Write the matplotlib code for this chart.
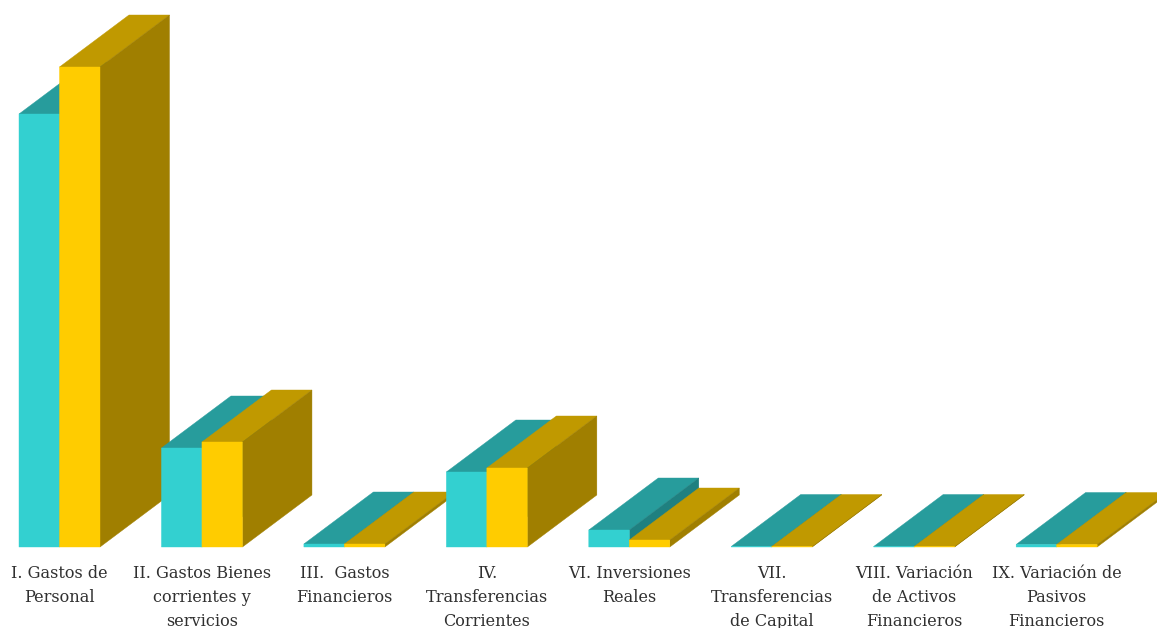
import numpy as np
import matplotlib
matplotlib.use("Agg")
import matplotlib.pyplot as plt
from matplotlib.patches import Polygon

# chart values
categorias = ["I. Gastos de\nPersonal",
              "II. Gastos Bienes\ncorrientes y\nservicios",
              "III.  Gastos\nFinancieros",
              "IV.\nTransferencias\nCorrientes",
              "VI. Inversiones\nReales",
              "VII.\nTransferencias\nde Capital",
              "VIII. Variación\nde Activos\nFinancieros",
              "IX. Variación de\nPasivos\nFinancieros"]
serie_a = [433, 99, 3, 75, 17, 0.5, 0.5, 2.5]
serie_b = [480, 105, 3, 79, 7, 0.5, 0.5, 2.5]

colores_a = ("#33D0D0", "#279C9C", "#1F8080")  # front, top, side
colores_b = ("#FFCC00", "#C09900", "#A07F00")

paso = 142.45
ancho = 40.5 / paso
prof_x = 69.5 / paso
prof_y = 52


def barra(ax, x, h, colores, z):
    # fake 3d bar: top and side first, then the front
    top = [(x, h), (x + ancho, h), (x + ancho + prof_x, h + prof_y), (x + prof_x, h + prof_y)]
    side = [(x + ancho, 0), (x + ancho + prof_x, prof_y), (x + ancho + prof_x, h + prof_y), (x + ancho, h)]
    front = [(x, 0), (x + ancho, 0), (x + ancho, h), (x, h)]
    for caras, color in ((top, colores[1]), (side, colores[2]), (front, colores[0])):
        ax.add_patch(Polygon(caras, closed=True, fc=color, ec=color, lw=0.3, zorder=z, snap=False))


fig = plt.figure(figsize=(11.57, 6.28), dpi=100)
ax = fig.add_axes([0, 0, 1, 1])
ax.set_xlim(-59.5 / paso, (1157 - 59.5) / paso)
ax.set_ylim(-81, 547)
ax.axis("off")

for i in range(len(categorias)):
    barra(ax, i - ancho, serie_a[i], colores_a, 2 + i * 2)
    barra(ax, i, serie_b[i], colores_b, 3 + i * 2)
    ax.text(i, -18, categorias[i], ha="center", va="top", family="DejaVu Serif",
            fontsize=11.6, linespacing=1.52, color="#303030", zorder=50, clip_on=False)

plt.savefig("out.png", dpi=100)
